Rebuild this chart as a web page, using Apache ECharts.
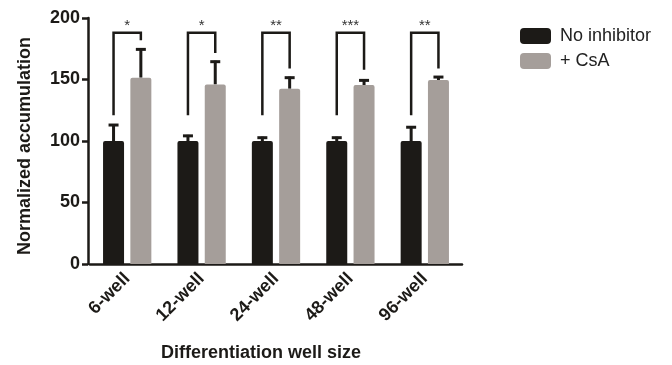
<!DOCTYPE html>
<html>
<head>
<meta charset="utf-8">
<script src="https://cdn.jsdelivr.net/npm/echarts@6/dist/echarts.min.js"></script>
<style>html,body{margin:0;padding:0;background:#fff}#c{width:672px;height:365px}</style>
</head>
<body>
<div id="c"></div>
<script>
const categories = ['6-well', '12-well', '24-well', '48-well', '96-well'];
const noInhibitor = [100, 100, 100, 100, 100];
const noInhibitorSD = [13.8, 5, 3.5, 3.5, 12];
const csa = [151.5, 146, 142.5, 145.5, 149.5];
const csaSD = [23.8, 19.3, 9.8, 4.6, 3.3];
const bracketLeft = [121, 121, 121, 121, 121];
const bracketTop = [188, 188, 188, 188, 188];
const bracketRight = [182, 171.5, 159, 158, 159];
const stars = ['*', '*', '**', '***', '**'];
const yTicks = [0, 50, 100, 150, 200];

const BAR_W = 21, GAP = 0.3;
const OFF = (BAR_W + BAR_W * GAP) / 2;
const INK = '#1c1a17';
const GRAY = '#a59e9a';

const chart = echarts.init(document.getElementById('c'));

function errRender(side) {
  return function (params, api) {
    const i = api.value(0);
    const base = api.coord([i, api.value(1)]);
    const top = api.coord([i, api.value(2)]);
    const x = base[0] + side * OFF;
    return {
      type: 'group',
      children: [
        { type: 'line', shape: { x1: x, y1: base[1], x2: x, y2: top[1] }, style: { stroke: INK, lineWidth: 3 } },
        { type: 'line', shape: { x1: x - 5, y1: top[1] + 1, x2: x + 5, y2: top[1] + 1 }, style: { stroke: INK, lineWidth: 3 } }
      ]
    };
  };
}

const errNoData = categories.map((c, i) => [i, noInhibitor[i], noInhibitor[i] + noInhibitorSD[i]]);
const errCsaData = categories.map((c, i) => [i, csa[i], csa[i] + csaSD[i]]);
const bracketData = categories.map((c, i) => [i, bracketLeft[i], bracketTop[i], bracketRight[i]]);

chart.setOption({
  animation: false,
  textStyle: { fontFamily: 'Liberation Sans, Arial, sans-serif' },
  grid: { left: 90, right: 210, top: 18, bottom: 101, containLabel: false, outerBoundsMode: 'none' },
  legend: {
    orient: 'vertical',
    left: 515, top: 22,
    itemWidth: 31, itemHeight: 16, itemGap: 7,
    icon: 'roundRect',
    data: ['No inhibitor', '+ CsA'],
    textStyle: { fontSize: 18, color: '#222', fontFamily: 'Liberation Sans, Arial, sans-serif', padding: [0, 0, 0, 4] }
  },
  xAxis: {
    type: 'category',
    data: categories,
    name: 'Differentiation well size',
    nameLocation: 'middle',
    nameGap: 80,
    nameTextStyle: { fontSize: 18, fontWeight: 'bold', color: INK, padding: [0, 30, 0, 0] },
    axisLine: { lineStyle: { color: INK, width: 2.5 } },
    axisTick: { alignWithLabel: true, length: 6, lineStyle: { color: INK, width: 2.5 } },
    axisLabel: { rotate: 45, fontSize: 18, fontWeight: 'bold', color: INK, margin: 12 }
  },
  yAxis: {
    type: 'value',
    min: 0, max: 200, interval: 50,
    offset: 2,
    name: 'Normalized accumulation',
    nameLocation: 'middle',
    nameGap: 54,
    nameTextStyle: { fontSize: 18, fontWeight: 'bold', color: INK, padding: [0, 10, 0, 0] },
    axisLine: { show: true, lineStyle: { color: INK, width: 2.5 } },
    axisTick: { show: true, length: 6, lineStyle: { color: INK, width: 2.5 } },
    axisLabel: { fontSize: 18, fontWeight: 'bold', color: INK, margin: 8,
      formatter: v => yTicks.includes(v) ? String(v) : '' },
    splitLine: { show: false }
  },
  series: [
    { name: 'No inhibitor', type: 'bar', data: noInhibitor, barWidth: BAR_W, barGap: '30%',
      itemStyle: { color: INK, borderRadius: [2, 2, 0, 0] }, z: 2 },
    { name: '+ CsA', type: 'bar', data: csa, barWidth: BAR_W,
      itemStyle: { color: GRAY, borderRadius: [2, 2, 0, 0] }, z: 2 },
    { type: 'custom', data: errNoData, encode: { x: 0, y: [1, 2] }, renderItem: errRender(-1), z: 1 },
    { type: 'custom', data: errCsaData, encode: { x: 0, y: [1, 2] }, renderItem: errRender(1), z: 1 },
    { type: 'custom', data: bracketData, encode: { x: 0, y: [1, 2, 3] }, z: 3,
      renderItem: function (params, api) {
        const i = api.value(0);
        const pl = api.coord([i, api.value(1)]);
        const pt = api.coord([i, api.value(2)]);
        const pr = api.coord([i, api.value(3)]);
        const xl = pl[0] - OFF, xr = pl[0] + OFF;
        return {
          type: 'group',
          children: [
            { type: 'polyline', shape: { points: [[xl, pl[1]], [xl, pt[1]], [xr, pt[1]], [xr, pr[1]]] },
              style: { stroke: INK, lineWidth: 2.5, fill: null } },
            { type: 'text', style: { text: stars[i], x: pl[0], y: pt[1] - 7, align: 'center', verticalAlign: 'middle',
              font: '15px Liberation Sans, Arial, sans-serif', fill: '#333' } }
          ]
        };
      }
    }
  ]
});
</script>
</body>
</html>
